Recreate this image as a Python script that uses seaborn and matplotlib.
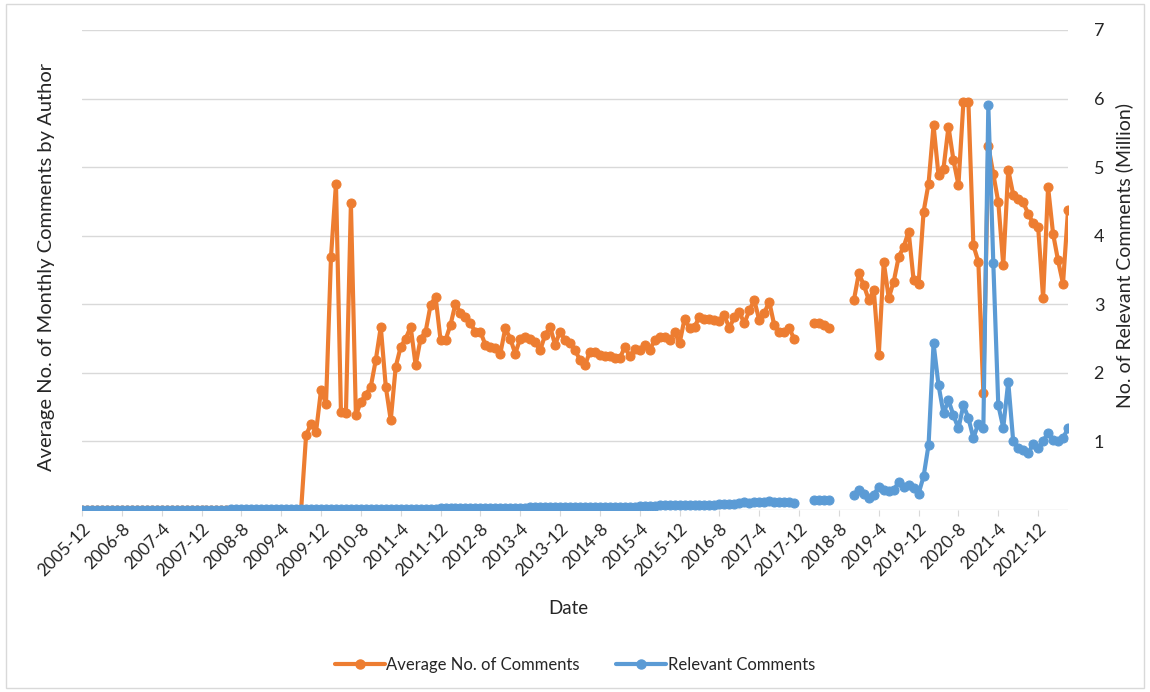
import numpy as np
import pandas as pd
import matplotlib
matplotlib.use('Agg')
import matplotlib.pyplot as plt
import seaborn as sns
from matplotlib.lines import Line2D
from matplotlib.patches import Rectangle

nan = np.nan

# monthly categories 2005-12 .. 2022-6, every 8th one is labelled
months = [f"{p.year}-{p.month}" for p in pd.period_range('2005-12', '2022-06', freq='M')]

# Average No. of Comments (left axis)
avg_comments = [
    0, 0, 0, 0, 0, 0, 0, 0, 0, 0, 0, 0,
    0, 0, 0, 0, 0, 0, 0, 0, 0, 0, 0, 0,
    0, 0, 0, 0, 0, 0, 0, 0, 0, 0, 0, 0,
    0, 0, 0, 0, 0, 0, 0, 0, 0,
    1.09, 1.26, 1.14, 1.75, 1.55, 3.69, 4.76, 1.43, 1.41, 4.47, 1.38,
    1.58, 1.68, 1.80, 2.19, 2.67, 1.80, 1.31, 2.09, 2.38, 2.50, 2.67, 2.11,
    2.50, 2.60, 2.99, 3.11, 2.48, 2.48, 2.70, 3.01, 2.87, 2.82, 2.72, 2.60,
    2.60, 2.41, 2.38, 2.36, 2.28, 2.65, 2.50, 2.28,
    2.50, 2.52, 2.49, 2.45, 2.33, 2.55, 2.67, 2.41,
    2.60, 2.48, 2.43, 2.33, 2.19, 2.11, 2.31, 2.31,
    2.26, 2.24, 2.24, 2.21, 2.21, 2.38, 2.24, 2.35,
    2.33, 2.41, 2.33, 2.48, 2.52, 2.52, 2.48, 2.60,
    2.43, 2.79, 2.65, 2.67, 2.82, 2.79, 2.79, 2.77,
    2.75, 2.84, 2.65, 2.82, 2.89, 2.72, 2.91, 3.06,
    2.77, 2.87, 3.04, 2.70, 2.60, 2.60, 2.65, 2.50,
    nan, nan, nan,
    2.73, 2.72, 2.70, 2.66,
    nan, nan, nan, nan,
    3.06, 3.45, 3.28, 3.06, 3.21, 2.26, 3.62, 3.09,
    3.33, 3.69, 3.84, 4.06, 3.35, 3.30, 4.35, 4.76,
    5.61, 4.88, 4.98, 5.59, 5.10, 4.74, 5.95, 5.95,
    3.86, 3.62, 1.71, 5.31, 4.90, 4.49, 3.57, 4.96,
    4.60, 4.54, 4.49, 4.32, 4.18, 4.13, 3.09, 4.71,
    4.03, 3.64, 3.30, 4.37,
]

# Relevant Comments, million (right axis)
relevant_comments = [
    0.00, 0.00, 0.00, 0.00, 0.00, 0.00, 0.00, 0.00, 0.00, 0.00, 0.00, 0.00,
    0.00, 0.00, 0.00, 0.00, 0.00, 0.00, 0.00, 0.00, 0.00, 0.00, 0.00, 0.00,
    0.00, 0.00, 0.00, 0.00, 0.00, 0.00, 0.01, 0.01, 0.01, 0.01, 0.01, 0.01,
    0.01, 0.01, 0.01, 0.01, 0.01, 0.01, 0.01, 0.01, 0.01, 0.01, 0.01, 0.01,
    0.01, 0.01, 0.01, 0.01, 0.01, 0.01, 0.02, 0.02, 0.02, 0.02, 0.02, 0.02,
    0.02, 0.02, 0.02, 0.02, 0.02, 0.02, 0.02, 0.02, 0.02, 0.02, 0.02, 0.02,
    0.03, 0.03, 0.03, 0.03, 0.03, 0.03, 0.03, 0.03, 0.03, 0.03, 0.03, 0.03,
    0.03, 0.03, 0.03, 0.03, 0.03, 0.03, 0.04, 0.04, 0.04, 0.04, 0.04, 0.04,
    0.04, 0.04, 0.04, 0.04, 0.04, 0.04, 0.05, 0.05, 0.05, 0.05, 0.05, 0.05,
    0.05, 0.05, 0.05, 0.05, 0.06, 0.06, 0.06, 0.06, 0.07, 0.07, 0.07, 0.07,
    0.07, 0.07, 0.07, 0.07, 0.08, 0.08, 0.08, 0.08, 0.09, 0.09, 0.09, 0.09,
    0.10, 0.11, 0.10, 0.12, 0.11, 0.12, 0.13, 0.12, 0.11, 0.12, 0.11, 0.10,
    nan, nan, nan,
    0.15, 0.15, 0.14, 0.14,
    nan, nan, nan, nan,
    0.22, 0.29, 0.24, 0.17, 0.22, 0.34, 0.29, 0.27,
    0.29, 0.41, 0.34, 0.36, 0.32, 0.24, 0.49, 0.95,
    2.43, 1.82, 1.41, 1.60, 1.38, 1.19, 1.53, 1.34,
    1.05, 1.26, 1.19, 5.90, 3.60, 1.53, 1.20, 1.87,
    1.00, 0.90, 0.87, 0.83, 0.96, 0.90, 1.00, 1.13,
    1.02, 1.00, 1.05, 1.19,
]

orange = '#ED7D31'
blue = '#5B9BD5'
text_col = '#262626'

df = pd.DataFrame({'i': np.arange(len(months)),
                   'avg': avg_comments,
                   'rel': relevant_comments})
# separate line pieces where values are missing
df['seg_avg'] = df['avg'].isna().cumsum()
df['seg_rel'] = df['rel'].isna().cumsum()

sns.set_style('white')
plt.rcParams['font.family'] = ['Lato', 'DejaVu Sans']

fig = plt.figure(figsize=(11.5, 6.92), dpi=100)
ax = fig.add_axes([82 / 1150, 1 - 510 / 692, 986 / 1150, 480 / 692])
ax2 = ax.twinx()

lw, ms = 3.0, 6.5
sns.lineplot(data=df.dropna(subset=['avg']), x='i', y='avg', units='seg_avg',
             estimator=None, color=orange, lw=lw, marker='o', ms=ms,
             markeredgecolor=orange, ax=ax, legend=False, zorder=3)
sns.lineplot(data=df.dropna(subset=['rel']), x='i', y='rel', units='seg_rel',
             estimator=None, color=blue, lw=lw, marker='o', ms=ms,
             markeredgecolor=blue, ax=ax2, legend=False, zorder=3)

for a in (ax, ax2):
    a.set_ylim(0, 7)
    a.set_xlim(0, len(months) - 1)
    for s in a.spines.values():
        s.set_visible(False)
    a.set_xlabel('')
    a.set_ylabel('')

ax.set_yticks(range(8))
ax.set_yticklabels([])
ax.tick_params(axis='y', left=False)
ax.yaxis.grid(True, color='#d9d9d9', lw=1)
ax.xaxis.grid(False)

ax2.set_yticks(range(1, 8))
ax2.set_yticklabels([str(v) for v in range(1, 8)], fontsize=13, color=text_col)
ax2.tick_params(axis='y', right=False, pad=15)
ax2.grid(False)

ticks = list(range(0, len(months), 8))
ax.set_xticks(ticks)
ax.set_xticklabels([months[t] for t in ticks], rotation=45, ha='right',
                   rotation_mode='anchor', fontsize=12.5, color=text_col)
ax.tick_params(axis='x', bottom=True, length=4, color='#d9d9d9', pad=4)

fig.text(568 / 1150, 1 - 608 / 692, 'Date', ha='center', va='center',
         fontsize=13.5, color=text_col)
fig.text(47 / 1150, 1 - 267 / 692, 'Average No. of Monthly Comments by Author',
         rotation=90, ha='center', va='center', fontsize=14.5, color=text_col)
fig.text(1124 / 1150, 1 - 255 / 692, 'No. of Relevant Comments (Million)',
         rotation=90, ha='center', va='center', fontsize=14, color=text_col)

handles = [Line2D([], [], color=orange, lw=lw, marker='o', ms=ms),
           Line2D([], [], color=blue, lw=lw, marker='o', ms=ms)]
fig.legend(handles, ['Average No. of Comments', 'Relevant Comments'],
           loc='center', bbox_to_anchor=(0.5, 1 - 665 / 692), ncol=2,
           frameon=False, fontsize=12, handlelength=3, handletextpad=0.1,
           columnspacing=2.2, labelcolor=text_col)

fig.patches.append(Rectangle((6 / 1150, 4 / 692), 1138 / 1150, 684 / 692,
                             transform=fig.transFigure, fill=False,
                             edgecolor='#d9d9d9', lw=1))

fig.savefig('out.png', dpi=100)
